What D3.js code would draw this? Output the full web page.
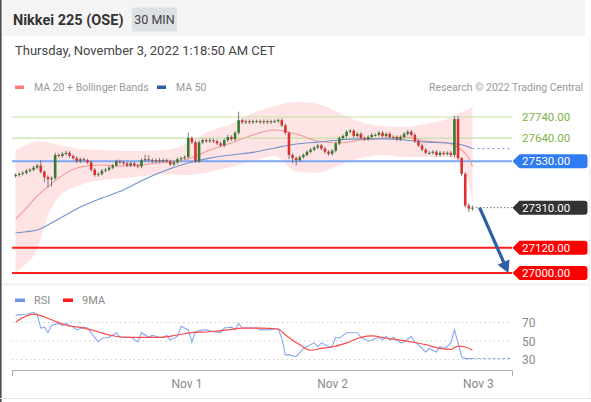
<!DOCTYPE html>
<html><head><meta charset="utf-8">
<script src="https://cdn.jsdelivr.net/npm/d3@7"></script>
<style>
html,body{margin:0;padding:0;background:#fff;}
svg{display:block;font-family:Roboto,"Liberation Sans",sans-serif;}
</style></head>
<body>
<svg id="chart" width="591" height="402"></svg>
<script>
// ---------------- DATA ----------------
const title = "Nikkei 225 (OSE)";
const period = "30 MIN";
const dateText = "Thursday, November 3, 2022 1:18:50 AM CET";
const copyright = "Research \u00A9 2022 Trading Central";

const opens = [27460,27465,27470,27475,27485,27490,27500,27510,27480,27455,27445,27450,27560,27555,27565,27570,27555,27545,27530,27540,
27535,27525,27490,27465,27470,27485,27490,27500,27510,27530,27525,27520,27510,27520,27510,27505,27535,27540,27535,27530,
27535,27530,27535,27530,27515,27525,27540,27545,27550,27640,27620,27530,27620,27630,27625,27630,27625,27615,27605,27630,
27645,27635,27665,27725,27715,27720,27715,27720,27720,27715,27720,27715,27720,27720,27725,27700,27665,27560,27545,27535,
27550,27560,27575,27585,27595,27605,27590,27575,27565,27580,27615,27640,27650,27670,27675,27650,27660,27640,27635,27645,
27655,27655,27665,27650,27660,27645,27645,27635,27645,27660,27670,27655,27625,27605,27585,27570,27570,27575,27560,27570,
27565,27570,27560,27730,27545,27470,27320,27305];
const closes = [27465,27470,27475,27485,27490,27500,27510,27480,27455,27445,27450,27560,27555,27565,27570,27555,27545,27530,27540,27535,
27525,27490,27465,27470,27485,27490,27500,27510,27530,27525,27520,27510,27520,27510,27505,27535,27540,27535,27530,27535,
27530,27535,27530,27515,27525,27540,27545,27550,27640,27620,27530,27620,27630,27625,27630,27625,27615,27605,27630,27645,
27635,27665,27725,27715,27720,27715,27720,27720,27715,27720,27715,27720,27720,27725,27700,27665,27560,27545,27535,27550,
27560,27575,27585,27595,27605,27590,27575,27565,27580,27615,27640,27650,27670,27675,27650,27660,27640,27635,27645,27655,
27655,27665,27650,27660,27645,27645,27635,27645,27660,27670,27655,27625,27605,27585,27570,27570,27575,27560,27570,27565,
27570,27560,27730,27545,27470,27320,27305,27310];
const highs = [27473,27478,27483,27493,27498,27508,27518,27535,27488,27463,27458,27570,27568,27575,27580,27578,27563,27553,27548,27548,
27543,27533,27498,27478,27493,27498,27508,27518,27538,27538,27533,27528,27528,27528,27518,27543,27560,27558,27545,27543,
27545,27543,27543,27538,27533,27548,27553,27558,27665,27648,27628,27628,27638,27638,27640,27638,27633,27623,27638,27655,
27653,27673,27765,27733,27728,27728,27728,27728,27728,27728,27728,27728,27728,27733,27733,27708,27670,27568,27553,27558,
27568,27583,27593,27603,27613,27613,27598,27583,27588,27623,27648,27658,27678,27683,27683,27668,27668,27648,27653,27663,
27663,27673,27673,27668,27668,27653,27653,27653,27668,27678,27678,27663,27633,27613,27593,27578,27583,27583,27578,27578,
27578,27578,27745,27745,27550,27480,27330,27320];
const lows = [27452,27457,27462,27467,27477,27482,27492,27472,27430,27405,27410,27442,27547,27547,27557,27547,27537,27522,27522,27527,
27517,27482,27457,27457,27462,27477,27482,27492,27502,27517,27512,27502,27502,27502,27497,27497,27527,27527,27522,27522,
27522,27522,27522,27507,27507,27517,27532,27537,27542,27612,27522,27522,27612,27617,27617,27617,27607,27597,27597,27622,
27627,27627,27657,27707,27707,27707,27707,27712,27707,27707,27707,27707,27712,27712,27692,27657,27540,27520,27510,27527,
27542,27552,27567,27577,27587,27582,27567,27557,27557,27572,27607,27632,27642,27662,27642,27642,27632,27627,27627,27637,
27647,27647,27642,27642,27637,27637,27627,27627,27637,27652,27647,27617,27597,27577,27562,27562,27562,27552,27552,27557,
27557,27550,27550,27537,27460,27310,27290,27295];

// indicator readings (candle index -> value)
const maIdx   = [0,3,6,9,12,18,24,30,36,42,48,54,60,66,72,78,84,90,96,102,108,114,120,124,126,127];
const ma50    = [27190,27196,27204,27228,27256,27313,27356,27394,27446,27489,27522,27545,27560,27572,27593,27612,27621,27631,27636,27636,27631,27621,27617,27608,27598,27590];
const ma20    = [27256,27308,27365,27410,27451,27503,27512,27508,27515,27527,27541,27583,27617,27655,27678,27659,27626,27617,27631,27640,27645,27626,27617,27583,27545,27505];
const bbUpper = [27583,27607,27626,27620,27607,27588,27583,27579,27579,27583,27617,27673,27707,27759,27792,27811,27802,27759,27716,27697,27693,27707,27731,27764,27776,27787];
const bbLower = [27005,27045,27110,27270,27360,27417,27441,27451,27460,27470,27465,27479,27503,27531,27555,27480,27475,27512,27545,27560,27550,27550,27550,27512,27417,27340];

const rsiIdx = [0,3,5,6,7,8,9,10,12,13,14,16,17,19,20,22,23,24,26,28,29,31,32,34,35,37,38,40,41,42,43,45,46,48,49,50,52,53,55,57,58,60,61,62,63,65,67,68,70,72,73,74,75,76,78,80,81,83,84,85,87,88,89,90,92,93,95,96,98,99,101,102,103,104,105,107,108,110,111,112,114,115,117,118,119,120,121,122,123,124,125,126,127];
const rsiVal = [78,79,81,78,64,65,59,67,69,67,69,65,62,65,64,54,49,53,54,59,54,54,54,49,59,54,56,54,54,56,51,55,66,62,49,60,62,62,60,59,64,65,62,69,64,64,64,62,62,63,63,53,35,35,33,42,44,48,44,48,44,44,54,53,59,59,59,54,50,51,54,51,55,51,54,48,49,55,49,46,38,42,38,44,42,44,48,62,48,33,31,31,31];
const maRsiIdx = [0,5,10,14,19,23,26,31,35,40,45,49,54,59,63,68,73,75,79,82,85,88,92,96,99,103,107,110,114,118,121,123,125,127];
const maRsiVal = [70.5,79,73,67,64,60,56.5,54,54,54,56.5,59,60,62,64,64,63,56.5,46,40,42,43.5,48,54,55.5,53,51,49,46,42,41,44.5,43.5,40];

const levels = [
  {price:27740, kind:"res"},
  {price:27640, kind:"res"},
  {price:27530, kind:"pivot"},
  {price:27310, kind:"last"},
  {price:27120, kind:"sup"},
  {price:27000, kind:"sup"}
];
const rsiLevels = [70,50,30];
const xTickIdx = [47.5, 88, 128.5];
const xTickLabels = ["Nov 1","Nov 2","Nov 3"];
const arrowFrom = {idx:129, price:27310};
const arrowTo   = {idx:137, price:27000};

// ---------------- DRAW ----------------
const svg = d3.select("#chart");
const F = "Roboto, 'Liberation Sans', sans-serif";

// frame / header
svg.append("rect").attr("x",3).attr("y",0).attr("width",582).attr("height",36).attr("fill","#f4f4f4");
svg.append("rect").attr("x",0).attr("y",0).attr("width",1.6).attr("height",402).attr("fill","#4d4d4d");
svg.append("line").attr("x1",0).attr("x2",591).attr("y1",398.5).attr("y2",398.5).attr("stroke","#e8e8e8");
svg.append("line").attr("x1",589.5).attr("x2",589.5).attr("y1",36).attr("y2",399).attr("stroke","#eeeeee");
svg.append("text").attr("x",13).attr("y",24.5).attr("font-size",14.5).attr("font-weight","bold").attr("fill","#333").text(title);
svg.append("rect").attr("x",132).attr("y",7.5).attr("width",45).attr("height",24).attr("fill","#dde1e6");
svg.append("text").attr("x",154.5).attr("y",24).attr("text-anchor","middle").attr("font-size",12.5).attr("fill","#444").text(period);
svg.append("text").attr("x",15).attr("y",55).attr("font-size",13).attr("fill","#444").text(dateText);

// legend
const legTop = [{x:15, c:"#ff7c7c", t:"MA 20 + Bollinger Bands"},{x:157, c:"#2e5aa6", t:"MA 50"}];
legTop.forEach(d=>{
  svg.append("rect").attr("x",d.x).attr("y",85.5).attr("width",9).attr("height",3.5).attr("fill",d.c);
  svg.append("text").attr("x",d.x+19).attr("y",91).attr("font-size",10.5).attr("fill","#9a9a9a").text(d.t);
});
svg.append("text").attr("x",583).attr("y",91).attr("text-anchor","end").attr("font-size",10.5).attr("fill","#9a9a9a").text(copyright);

// scales
const x = d3.scaleLinear().domain([-1, 138]).range([12, 512]);
const y = d3.scaleLinear().domain([27000, 27740]).range([273, 117]);
const yr = d3.scaleLinear().domain([30, 70]).range([359.5, 322.5]);

// bollinger band
const bb = maIdx.map((d,i)=>({i:d, u:bbUpper[i], l:bbLower[i]}));
svg.append("path").datum(bb)
  .attr("d", d3.area().curve(d3.curveMonotoneX).x(d=>x(d.i)).y0(d=>y(d.l)).y1(d=>y(d.u)))
  .attr("fill","rgba(252,120,120,0.2)");

// levels
const lvColor = {res:"#c5e1a5", pivot:"#7ea7f5", sup:"#ff1f1f", last:"#555"};
levels.forEach(l=>{
  if(l.kind==="last"){
    svg.append("line").attr("x1",x(128)).attr("x2",512).attr("y1",y(l.price)).attr("y2",y(l.price))
      .attr("stroke","#777").attr("stroke-dasharray","1.5,2");
  } else {
    svg.append("line").attr("x1",12).attr("x2",512).attr("y1",y(l.price)).attr("y2",y(l.price))
      .attr("stroke",lvColor[l.kind]).attr("stroke-width", l.kind==="res"?1.2:2);
  }
});

// moving averages
const lineGen = d3.line().curve(d3.curveMonotoneX).x(d=>x(d.i)).y(d=>y(d.v));
svg.append("path").datum(maIdx.map((d,i)=>({i:d,v:ma20[i]}))).attr("d",lineGen)
  .attr("fill","none").attr("stroke","#f49a94").attr("stroke-width",1.1);
svg.append("path").datum(maIdx.map((d,i)=>({i:d,v:ma50[i]}))).attr("d",lineGen)
  .attr("fill","none").attr("stroke","#7191cc").attr("stroke-width",1.1);
svg.append("line").attr("x1",x(maIdx[maIdx.length-1])).attr("x2",512)
  .attr("y1",y(ma50[ma50.length-1])).attr("y2",y(ma50[ma50.length-1]))
  .attr("stroke","#7191cc").attr("stroke-dasharray","2,3");

// candles
const candles = closes.map((c,i)=>({i, o:opens[i], h:highs[i], l:lows[i], c}));
const cg = svg.append("g");
cg.selectAll("line.w").data(candles).join("line")
  .attr("x1",d=>x(d.i)).attr("x2",d=>x(d.i)).attr("y1",d=>y(d.h)).attr("y2",d=>y(d.l))
  .attr("stroke","#6b6b6b").attr("stroke-width",0.9);
cg.selectAll("rect.b").data(candles).join("rect")
  .attr("x",d=>x(d.i)-1.3).attr("width",2.6)
  .attr("y",d=>y(Math.max(d.o,d.c)))
  .attr("height",d=>Math.max(1, Math.abs(y(d.o)-y(d.c))))
  .attr("fill",d=>d.c>=d.o?"#367a2e":"#dd2f2f");

// arrow
(function(){
  const x1=x(arrowFrom.idx), y1=y(arrowFrom.price), x2=x(arrowTo.idx), y2=y(arrowTo.price);
  const dx=x2-x1, dy=y2-y1, len=Math.hypot(dx,dy), ux=dx/len, uy=dy/len, px=-uy, py=ux;
  const hl=12, hw=6.5;
  const bx=x2-ux*hl, by=y2-uy*hl;
  svg.append("line").attr("x1",x1).attr("y1",y1).attr("x2",bx+ux*1).attr("y2",by+uy*1)
    .attr("stroke","#2d5ea6").attr("stroke-width",3.2);
  svg.append("path").attr("d",`M${x2},${y2}L${bx+px*hw},${by+py*hw}L${bx-px*hw},${by-py*hw}Z`).attr("fill","#2d5ea6");
})();

// price labels
const boxColor = {pivot:"#2f7bf2", last:"#333333", sup:"#ff0000"};
levels.forEach(l=>{
  const yy = y(l.price);
  if(l.kind==="res"){
    svg.append("text").attr("x",522).attr("y",yy+4).attr("font-size",11.5).attr("fill","#7cb342").text(l.price.toFixed(2));
  } else {
    const c = boxColor[l.kind];
    svg.append("path").attr("d",`M512.5,${yy}L519.5,${yy-7}H584.5Q587.5,${yy-7} 587.5,${yy-4}V${yy+4}Q587.5,${yy+7} 584.5,${yy+7}H519.5Z`).attr("fill",c);
    svg.append("text").attr("x",522).attr("y",yy+4).attr("font-size",11.5).attr("fill","#fff").text(l.price.toFixed(2));
  }
});

// panel separator
svg.append("rect").attr("x",2).attr("y",283.5).attr("width",588).attr("height",2).attr("fill","#f0f0f0");

// RSI legend
const legR = [{x:15,c:"#6d98ea",t:"RSI"},{x:63,c:"#ff1a1a",t:"9MA"}];
legR.forEach(d=>{
  svg.append("rect").attr("x",d.x).attr("y",298.5).attr("width",10).attr("height",3.5).attr("fill",d.c);
  svg.append("text").attr("x",d.x+19).attr("y",304).attr("font-size",11).attr("fill","#8a8a8a").text(d.t);
});

// RSI grid
rsiLevels.forEach(v=>{
  svg.append("line").attr("x1",12).attr("x2",511).attr("y1",yr(v)).attr("y2",yr(v))
    .attr("stroke","#cfcfcf").attr("stroke-dasharray","1.5,3");
  svg.append("text").attr("x",522).attr("y",yr(v)+4.5).attr("font-size",12).attr("fill","#8a8a8a").text(v);
});

const rl = d3.line().x(d=>x(d.i)).y(d=>yr(d.v));
svg.append("path").datum(rsiIdx.map((d,i)=>({i:d,v:rsiVal[i]}))).attr("d",rl)
  .attr("fill","none").attr("stroke","#86a8f0").attr("stroke-width",1.1);
svg.append("line").attr("x1",x(rsiIdx[rsiIdx.length-1])).attr("x2",512)
  .attr("y1",yr(rsiVal[rsiVal.length-1])).attr("y2",yr(rsiVal[rsiVal.length-1]))
  .attr("stroke","#86a8f0").attr("stroke-dasharray","3,2");
svg.append("path").datum(maRsiIdx.map((d,i)=>({i:d,v:maRsiVal[i]}))).attr("d",rl.curve(d3.curveMonotoneX))
  .attr("fill","none").attr("stroke","#ff4a4a").attr("stroke-width",1.2);

// x axis
const xAxis = d3.axisBottom(x).tickValues(xTickIdx).tickFormat((d,i)=>xTickLabels[i])
  .tickSizeInner(0).tickSizeOuter(6).tickPadding(9);
const ax = svg.append("g").attr("transform","translate(0,370)").call(xAxis);
ax.select(".domain").attr("stroke","#aaa");
ax.selectAll("text").attr("font-size",12).attr("fill","#8a8a8a").attr("font-family",F);
</script>
</body></html>
